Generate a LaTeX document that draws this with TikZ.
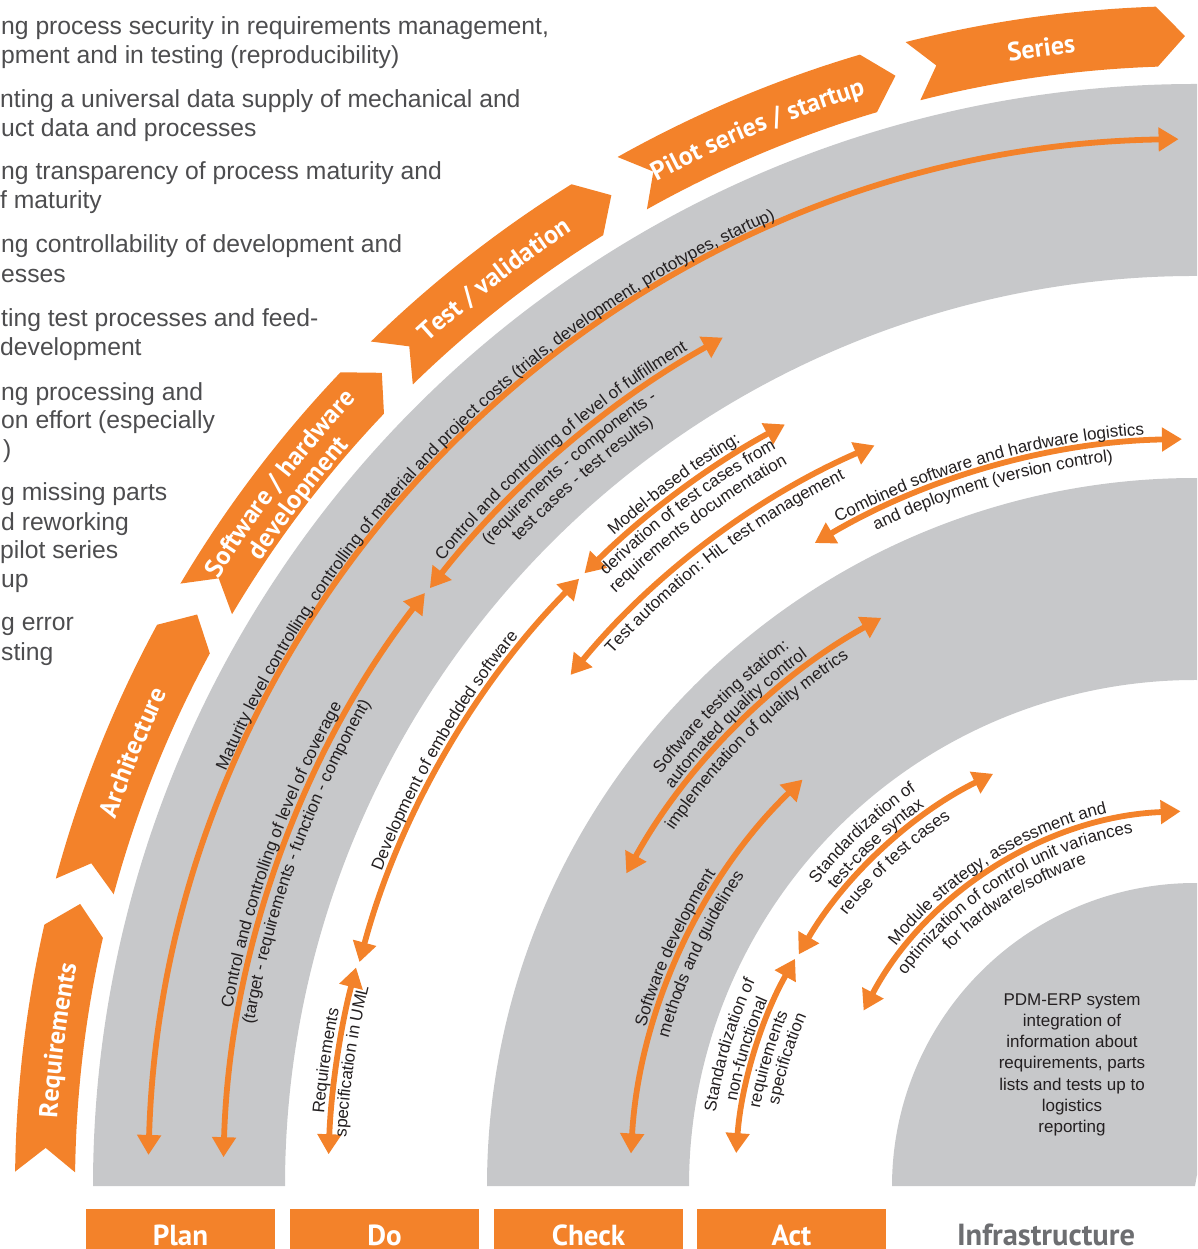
\documentclass[tikz,border=0pt]{standalone}
\usepackage{fontspec}
\setmainfont{Liberation Sans}
\newfontfamily\chevfam{PT Sans}
\usetikzlibrary{arrows.meta,decorations.text}
\definecolor{orng}{RGB}{243,130,42}
\definecolor{band}{RGB}{199,200,202}
\definecolor{lbl}{RGB}{35,31,32}
\definecolor{lefttxt}{RGB}{77,77,79}
\definecolor{infra}{RGB}{109,110,113}
\newcommand\lblfont{\fontsize{17}{20}\selectfont}
\newcommand\chevfont{\chevfam\bfseries\fontsize{26}{26}\selectfont}
% arrow: radius, start angle, end angle
\newcommand\orarc[3]{\draw[flow] ([shift={(#2:#1)}]ctr) arc[start angle=#2, end angle=#3, radius=#1];}
% label along arc: radius, centre angle, text
\newcommand\arclbl[3]{\path[decorate, decoration={text along path, text align=center, text color=lbl, text={|\lblfont|#3}}] ([shift={({#2+40}:#1)}]ctr) arc[start angle={#2+40}, end angle={#2-40}, radius=#1];}
% chevron: tail angle, head angle
\newcommand\chevseg[2]{\fill[orng] ([shift={(#1:1180)}]ctr) arc[start angle=#1, end angle=#2, radius=1180] -- ([shift={({#2-1.4}:1150)}]ctr) -- ([shift={(#2:1120)}]ctr) arc[start angle=#2, end angle=#1, radius=1120] -- ([shift={({#1-1.2}:1150)}]ctr) -- cycle;}
\newcommand\chevlbl[3]{\path[decorate, decoration={text along path, text align=center, text color=white, text={|\chevfont|#3}}] ([shift={({#2+30}:#1)}]ctr) arc[start angle={#2+30}, end angle={#2-30}, radius=#1];}

\begin{document}
\begin{tikzpicture}[x=1pt,y=1pt,
  flow/.style={draw=orng, line width=5.8pt, {Triangle[length=20pt,width=23pt]}-{Triangle[length=20pt,width=23pt]}},
  lefttext/.style={anchor=base west, inner sep=0pt, text=lefttxt, font=\fontsize{24.7}{29}\selectfont},
  pdcabox/.style={anchor=base, fill=orng, text=white, inner sep=0pt, minimum width=189pt, text height=36pt, text depth=14pt, font=\chevfam\bfseries\fontsize{29}{29}\selectfont}]
\useasboundingbox (0,0) rectangle (1197,-1249);
\clip (0,0) rectangle (1197,-1249);
\coordinate (ctr) at (1195,-1186);

% grey bands
\fill[band] ([shift={(180:1102)}]ctr) arc[start angle=180,end angle=80,radius=1102] -- ([shift={(80:910)}]ctr) arc[start angle=80,end angle=180,radius=910] -- cycle;
\fill[band] ([shift={(180:708)}]ctr) arc[start angle=180,end angle=80,radius=708] -- ([shift={(80:506)}]ctr) arc[start angle=80,end angle=180,radius=506] -- cycle;
\fill[band] (ctr) -- ([shift={(180:303)}]ctr) arc[start angle=180,end angle=80,radius=303] -- cycle;

% chevrons
\chevseg{179.3}{167.2}
\chevseg{164.9}{151.6}
\chevseg{149.3}{136.4}
\chevseg{134.3}{121.9}
\chevseg{119.3}{106.5}
\chevseg{104.2}{91.9}
\chevlbl{1140}{172.7}{Requirements}
\chevlbl{1140}{157.8}{Architecture}
\chevlbl{1150}{142.5}{Software / hardware}
\chevlbl{1124}{142.5}{development}
\chevlbl{1140}{127.7}{Test / validation}
\chevlbl{1140}{112.5}{Pilot series / startup}
\chevlbl{1140}{97.7}{Series}

% arrows
\orarc{1047}{178.3}{90.9}
\orarc{972}{178.3}{142.4}
\orarc{971}{142.0}{119.1}
\orarc{867}{177.9}{165.4}
\orarc{865}{165.0}{135.4}
\orarc{865}{134.9}{118.3}
\orarc{807}{140.7}{113.4}
\orarc{747}{120.6}{91.0}
\orarc{649}{151.2}{118.9}
\orarc{565}{176.7}{134.0}
\orarc{460}{175.9}{150.4}
\orarc{459}{149.7}{116.1}
\orarc{375}{152.1}{92.2}

% arrow labels
\arclbl{1054}{135.2}{Maturity level controlling, controlling of material and project costs (trials, development, prototypes, startup)}
\arclbl{979}{160.1}{Control and controlling of level of coverage}
\arclbl{955}{160.0}{(target - requirements - function - component)}
\arclbl{978}{130.8}{Control and controlling of level of fulfillment}
\arclbl{953}{131.1}{(requirements - components -}
\arclbl{934}{130.9}{test cases - test results)}
\arclbl{874}{171.8}{Requirements}
\arclbl{850}{171.6}{specification in UML}
\arclbl{872}{149.9}{Development of embedded software}
\arclbl{872}{126.6}{Model-based testing:}
\arclbl{848}{126.8}{derivation of test cases from}
\arclbl{829}{126.9}{requirements documentation}
\arclbl{789}{127.0}{Test automation: HiL test management}
\arclbl{753}{106.1}{Combined software and hardware logistics}
\arclbl{729}{106.2}{and deployment (version control)}
\arclbl{674}{134.7}{Software testing station:}
\arclbl{656}{134.5}{automated quality control}
\arclbl{631}{134.5}{implementation of quality metrics}
\arclbl{572}{155.4}{Software development}
\arclbl{547}{154.9}{methods and guidelines}
\arclbl{485}{163.2}{Standardization of}
\arclbl{466}{163.0}{non-functional}
\arclbl{442}{163.5}{requirements}
\arclbl{424}{162.7}{specification}
\arclbl{484}{133.3}{Standardization of}
\arclbl{466}{133.0}{test-case syntax}
\arclbl{441}{132.9}{reuse of test cases}
\arclbl{383}{122.3}{Module strategy, assessment and}
\arclbl{358}{122.0}{optimization of control unit variances}
\arclbl{340}{122.4}{for hardware/software}

% infrastructure text
\node[anchor=base, inner sep=0pt, text=lbl, font=\fontsize{17}{21.3}\selectfont] (pdm) at (1072,-1005)
  {\begin{tabular}[t]{@{}c@{}}PDM-ERP system\\integration of\\information about\\requirements, parts\\lists and tests up to\\logistics\\reporting\end{tabular}};

% left text
\node[lefttext] (lt1) at (1,-35) {ng process security in requirements management,};
\node[lefttext] (lt2) at (1,-63.5) {pment and in testing (reproducibility)};
\node[lefttext] (lt3) at (0,-108) {nting a universal data supply of mechanical and};
\node[lefttext] (lt4) at (1,-137) {uct data and processes};
\node[lefttext] (lt5) at (1,-180) {ng transparency of process maturity and};
\node[lefttext] (lt6) at (0,-209) {f maturity};
\node[lefttext] (lt7) at (1,-253) {ng controllability of development and};
\node[lefttext] (lt8) at (1,-282) {esses};
\node[lefttext] (lt9) at (1,-326) {ting test processes and feed-};
\node[lefttext] (lt10) at (0,-355) {development};
\node[lefttext] (lt11) at (1,-400) {ng processing and};
\node[lefttext] (lt12) at (1,-428) {on effort (especially};
\node[lefttext] (lt13) at (3,-457) {)};
\node[lefttext] (lt14) at (1,-500) {g missing parts};
\node[lefttext] (lt15) at (1,-530) {d reworking};
\node[lefttext] (lt16) at (0,-558) {pilot series};
\node[lefttext] (lt17) at (1,-587) {up};
\node[lefttext] (lt18) at (1,-630) {g error};
\node[lefttext] (lt19) at (1,-660) {sting};

% PDCA boxes
\node[pdcabox] (plan) at (180.5,-1245) {Plan};
\node[pdcabox] (do) at (384.5,-1245) {Do};
\node[pdcabox] (check) at (588.5,-1245) {Check};
\node[pdcabox] (act) at (791.5,-1245) {Act};
\node[anchor=base, inner sep=0pt, text=infra, font=\chevfam\bfseries\fontsize{30.5}{30.5}\selectfont] (infra) at (1046,-1245) {Infrastructure};
\end{tikzpicture}
\end{document}
